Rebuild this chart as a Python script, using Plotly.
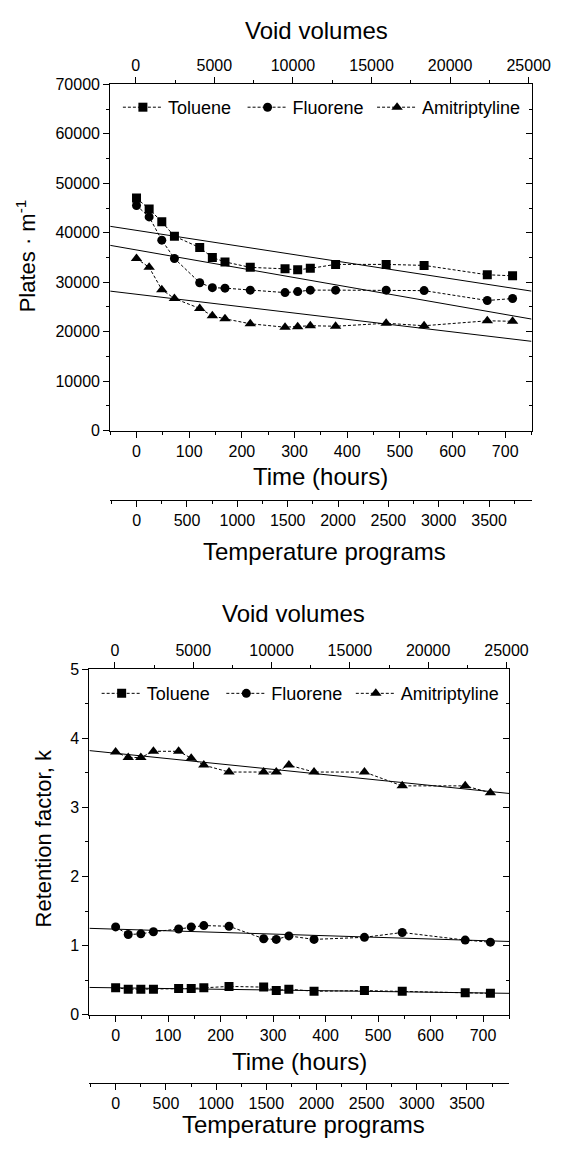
import plotly.graph_objects as go

FIG_W, FIG_H = 566, 1141   # a few px smaller than the 572x1149 window: no scrollbars
FONT = "Liberation Sans, Arial, sans-serif"

# ---------------- data ----------------
hours = [0, 24, 48, 72, 120, 144, 168, 216, 282, 306, 330, 378, 474, 546, 666, 714]

plates_toluene = [47000, 44800, 42200, 39300, 37000, 35000, 34100, 33000,
                  32700, 32500, 32800, 33600, 33600, 33400, 31500, 31300]
plates_fluorene = [45500, 43200, 38500, 34800, 29900, 28900, 28800, 28400,
                   27900, 28100, 28400, 28400, 28400, 28300, 26300, 26700]
plates_amitriptyline = [34800, 33000, 28500, 26700, 24700, 23200, 22600, 21600,
                        20900, 21000, 21200, 21100, 21700, 21200, 22200, 22100]

k_toluene = [0.39, 0.37, 0.37, 0.37, 0.38, 0.38, 0.39, 0.41,
             0.40, 0.35, 0.37, 0.34, 0.35, 0.34, 0.32, 0.31]
k_fluorene = [1.27, 1.16, 1.17, 1.20, 1.24, 1.27, 1.29, 1.28,
              1.10, 1.09, 1.14, 1.09, 1.12, 1.19, 1.08, 1.05]
k_amitriptyline = [3.80, 3.72, 3.72, 3.81, 3.81, 3.71, 3.61, 3.51,
                   3.51, 3.51, 3.61, 3.51, 3.51, 3.31, 3.31, 3.21]

fit_hours = [-50, 750]
fit_plates_toluene = [41300, 28200]
fit_plates_fluorene = [37450, 22550]
fit_plates_amitriptyline = [28200, 18050]
fit_k_toluene = [0.395, 0.31]
fit_k_fluorene = [1.25, 1.06]
fit_k_amitriptyline = [3.82, 3.20]

series_names = ["Toluene", "Fluorene", "Amitriptyline"]
series_symbols = ["square", "circle", "triangle-up"]
series_sizes = [9, 9, 10]

time_range = [-50, 750]
void_range = [-1630, 25180]
temp_range = [-263, 3922]
plates_range = [0, 70000]
k_range = [0, 5]

# ---------------- helpers ----------------
def xp(px):
    return px / FIG_W


def yp(py):
    return 1 - py / FIG_H


def axis_style(**kw):
    d = dict(showline=True, linecolor="black", linewidth=1, ticks="outside",
             ticklen=6, tickwidth=1, tickcolor="black", showgrid=False,
             zeroline=False, tickfont=dict(family=FONT, size=16, color="black"),
             minor=dict(ticks="outside", ticklen=3, tickwidth=1,
                        tickcolor="black", showgrid=False))
    minor = kw.pop("minor_dtick", None)
    if minor is not None:
        d["minor"]["dtick"] = minor
    minor_ticks = kw.pop("minor_ticks", None)
    if minor_ticks is not None:
        d["minor"]["ticks"] = minor_ticks
    d.update(kw)
    return d


fig = go.Figure()

TOP = dict(x0=114, x1=550, y0=77.5, y1=429, temp=499, leg_y=101,
           leg_x=[122, 251, 385])
BOT = dict(x0=92.5, x1=527, y0=671, y1=1022, temp=1091, leg_y=696,
           leg_x=[100, 229, 363])

panels = [
    dict(xa="x", ya="y", void="x2", right="y2", temp="x3",
         legends=["legend", "legend2", "legend3"], geo=TOP,
         ys=[plates_toluene, plates_fluorene, plates_amitriptyline],
         fits=[fit_plates_toluene, fit_plates_fluorene, fit_plates_amitriptyline]),
    dict(xa="x4", ya="y3", void="x5", right="y4", temp="x6",
         legends=["legend4", "legend5", "legend6"], geo=BOT,
         ys=[k_toluene, k_fluorene, k_amitriptyline],
         fits=[fit_k_toluene, fit_k_fluorene, fit_k_amitriptyline]),
]

for p in panels:
    for name, sym, size, yv, lg in zip(series_names, series_symbols, series_sizes,
                                       p["ys"], p["legends"]):
        fig.add_trace(go.Scatter(
            x=hours, y=yv, name=name, mode="lines+markers",
            line=dict(color="black", width=1, dash="3px,2px"),
            marker=dict(symbol=sym, size=size, color="black"),
            xaxis=p["xa"], yaxis=p["ya"], legend=lg))
    for fv in p["fits"]:
        fig.add_trace(go.Scatter(
            x=fit_hours, y=fv, mode="lines", showlegend=False,
            line=dict(color="black", width=1),
            xaxis=p["xa"], yaxis=p["ya"]))
    # empty traces so that the secondary axes get drawn
    for xa, ya in [(p["void"], p["ya"]), (p["xa"], p["right"]), (p["temp"], p["ya"])]:
        fig.add_trace(go.Scatter(x=[], y=[], mode="markers", showlegend=False,
                                 hoverinfo="skip", xaxis=xa, yaxis=ya))

layout = dict(
    width=FIG_W, height=FIG_H, autosize=False,
    margin=dict(l=0, r=0, t=0, b=0, pad=0),
    paper_bgcolor="white", plot_bgcolor="white",
    font=dict(family=FONT, color="black"),
    # ---- top panel ----
    xaxis=axis_style(domain=[xp(TOP["x0"]), xp(TOP["x1"])], anchor="y",
                     range=time_range, dtick=100, tick0=0, minor_dtick=50),
    yaxis=axis_style(domain=[yp(TOP["y1"]), yp(TOP["y0"])], anchor="x",
                     range=plates_range, dtick=10000, tick0=0, minor_dtick=5000,
                     tickformat="d"),
    xaxis2=axis_style(overlaying="x", side="top", anchor="y", range=void_range,
                      dtick=5000, tick0=0, minor_dtick=2500, tickformat="d"),
    yaxis2=axis_style(overlaying="y", side="right", anchor="x", range=plates_range,
                      dtick=10000, tick0=0, minor_dtick=5000, ticks="inside",
                      minor_ticks="inside", showticklabels=False),
    xaxis3=axis_style(overlaying="x", anchor="free", position=yp(TOP["temp"]),
                      side="bottom", range=temp_range, dtick=500, tick0=0,
                      minor_dtick=250),
    # ---- bottom panel ----
    xaxis4=axis_style(domain=[xp(BOT["x0"]), xp(BOT["x1"])], anchor="y3",
                      range=time_range, dtick=100, tick0=0, minor_dtick=50),
    yaxis3=axis_style(domain=[yp(BOT["y1"]), yp(BOT["y0"])], anchor="x4",
                      range=k_range, dtick=1, tick0=0, minor_dtick=0.5),
    xaxis5=axis_style(overlaying="x4", side="top", anchor="y3", range=void_range,
                      dtick=5000, tick0=0, minor_dtick=2500, tickformat="d"),
    yaxis4=axis_style(overlaying="y3", side="right", anchor="x4", range=k_range,
                      dtick=1, tick0=0, minor_dtick=0.5, ticks="inside",
                      minor_ticks="inside", showticklabels=False),
    xaxis6=axis_style(overlaying="x4", anchor="free", position=yp(BOT["temp"]),
                      side="bottom", range=temp_range, dtick=500, tick0=0,
                      minor_dtick=250),
)

for p in panels:
    g = p["geo"]
    for lg, lx in zip(p["legends"], g["leg_x"]):
        layout[lg] = dict(orientation="h", x=xp(lx), y=yp(g["leg_y"]),
                          xanchor="left", yanchor="middle", itemwidth=40,
                          font=dict(family=FONT, size=18, color="black"),
                          bgcolor="rgba(0,0,0,0)", borderwidth=0)

fig.update_layout(**layout)

XT_FONT = dict(family=FONT, size=24, color="black")
YT_FONT = dict(family=FONT, size=22, color="black")


def label(text, x, y, font, angle=0):
    fig.add_annotation(text=text, x=xp(x), y=yp(y), xref="paper", yref="paper",
                       showarrow=False, font=font, textangle=angle,
                       xanchor="center", yanchor="middle")


label("Void volumes", 328, 23, XT_FONT)
label("Time (hours)", 332, 476, XT_FONT)
label("Temperature programs", 336, 552, XT_FONT)
label("Plates · m<sup>-1</sup>", 27, 252, YT_FONT, -90)

label("Void volumes", 304, 615, XT_FONT)
label("Time (hours)", 310, 1069, XT_FONT)
label("Temperature programs", 314, 1133, XT_FONT)
label("Retention factor, k", 44.5, 843, YT_FONT, -90)

fig.write_html("out.html",
               config={"displayModeBar": False},
               post_script="document.documentElement.style.margin='0';"
                           "document.body.style.margin='0';"
                           "document.body.style.overflow='hidden';")
